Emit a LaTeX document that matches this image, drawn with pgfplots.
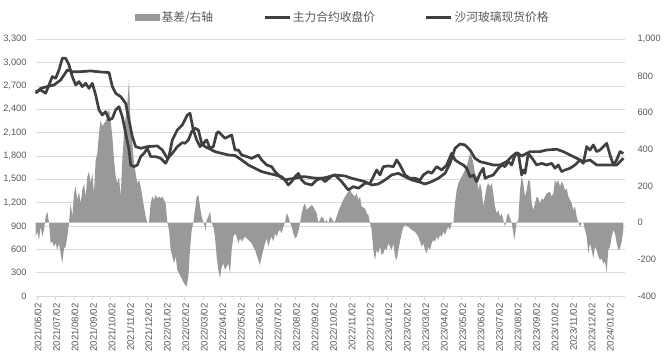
\documentclass[border=0pt]{standalone}
\usepackage{fontspec}
\setmainfont{Liberation Sans}
\newfontfamily\cjk{Noto Sans CJK SC}
\usepackage{pgfplots}
\pgfplotsset{compat=1.18}
\usepackage{pgfplotstable}
\definecolor{basisgray}{RGB}{153,153,153}
\definecolor{linegray}{RGB}{64,64,64}
\definecolor{gridgray}{RGB}{217,217,217}
\definecolor{textgray}{RGB}{89,89,89}

% x = time index (1 month = 55.38 units, 2021/06/02 at 9.1)
\pgfplotstableread{
g r
5 -76
10 -49
15 -94
20 -22
25 -76
30 -40
35 33
40 60
45 0
50 -113
55 -103
60 -131
65 -113
70 -149
75 -113
80 -167
85 -222
90 -140
95 -131
100 -76
105 0
110 106
115 33
120 160
125 197
130 124
135 169
140 106
145 178
150 215
155 142
160 251
165 278
170 215
175 269
180 160
185 342
190 378
195 487
200 560
205 524
210 542
215 551
220 578
225 624
230 551
235 469
240 342
245 251
250 215
255 251
260 142
265 342
270 487
275 578
280 651
285 778
290 524
295 433
300 324
305 269
310 215
315 233
320 197
325 142
330 87
335 33
340 0
345 0
350 106
355 142
360 124
365 151
370 133
375 142
380 133
385 142
390 124
395 106
400 0
405 -40
410 -149
415 -185
420 -222
425 -185
430 -258
435 -276
440 -294
445 -312
450 -331
458 -349
463 -294
468 -149
473 -40
478 0
483 69
488 142
493 151
498 87
503 33
508 0
513 -22
515 -49
518 15
523 33
528 60
533 -3
538 -22
543 -76
548 -185
553 -258
558 -303
563 -240
568 -222
573 -258
578 -240
583 -222
588 -276
593 -149
598 -76
603 -58
608 -76
613 -113
618 -85
623 -103
633 -76
643 -94
653 -113
663 -149
673 -204
678 -231
683 -185
688 -149
693 -113
698 -85
703 -131
708 -94
713 -76
718 -103
723 -58
728 -76
733 -49
738 -40
743 -58
748 -22
753 0
758 51
763 33
768 0
773 -22
778 -58
783 -85
788 -76
793 -49
798 -3
803 51
808 87
813 106
818 69
823 78
828 87
833 97
838 87
843 69
848 51
853 0
858 15
863 33
868 24
873 0
878 15
883 -3
888 33
893 24
898 5
903 5
908 33
913 60
923 106
933 142
943 169
948 178
953 160
963 142
968 160
973 124
978 142
983 87
993 78
998 51
1003 42
1008 0
1013 -40
1018 -149
1023 -204
1028 -149
1033 -167
1038 -131
1043 -176
1048 -167
1053 -140
1058 -149
1063 -113
1068 -131
1073 -149
1078 -113
1083 -185
1088 -204
1093 -149
1098 -103
1103 -58
1108 -22
1113 -13
1123 -22
1133 -40
1143 -49
1153 -76
1158 -103
1163 -131
1168 -113
1173 -149
1178 -167
1183 -131
1188 -149
1193 -113
1198 -94
1203 -103
1208 -76
1213 -94
1218 -67
1223 -76
1228 -49
1233 -67
1238 -40
1243 -22
1248 -40
1253 -3
1258 0
1263 106
1268 178
1273 215
1278 233
1283 251
1288 269
1293 287
1298 306
1303 342
1308 378
1313 360
1318 324
1323 269
1328 251
1333 178
1338 215
1343 178
1348 87
1353 142
1358 197
1363 215
1368 197
1373 215
1378 160
1383 87
1388 51
1393 69
1398 33
1403 51
1408 15
1413 -22
1416 0
1418 33
1423 51
1428 24
1433 0
1438 -58
1441 -94
1445 -40
1448 0
1453 15
1458 178
1463 251
1468 215
1473 142
1478 178
1483 233
1488 224
1493 106
1498 69
1503 106
1508 142
1513 133
1518 106
1523 133
1528 124
1533 142
1538 160
1548 169
1553 142
1558 160
1563 233
1568 215
1573 233
1578 197
1583 224
1588 206
1593 178
1598 187
1603 142
1608 124
1613 106
1618 69
1623 87
1628 33
1633 0
1638 -22
1643 0
1648 0
1653 -40
1658 -76
1663 -167
1668 -113
1673 -149
1678 -194
1683 -131
1688 -149
1693 -185
1698 -204
1703 -194
1708 -222
1713 -213
1718 -267
1723 -149
1728 -131
1733 -76
1738 -40
1743 -58
1748 -113
1753 -149
1758 -140
1763 -103
1768 -40
}\basis

\pgfplotstableread{
g v
5 2627
20 2649
35 2606
45 2713
55 2820
65 2799
75 2906
85 3056
95 3056
105 2970
115 2820
125 2713
135 2756
145 2692
155 2734
165 2670
175 2734
185 2584
195 2392
205 2327
215 2370
225 2263
235 2284
245 2392
255 2434
265 2306
275 2092
285 1877
290 1684
300 1663
310 1684
320 1792
330 1834
340 1899
350 1792
365 1792
380 1770
395 1706
405 1792
415 2006
430 2134
445 2199
460 2327
468 2349
478 2134
488 2006
498 1920
508 1963
518 2006
528 1899
538 1920
548 2092
553 2113
563 2070
573 2027
583 2049
593 2070
603 1877
613 1877
623 1813
638 1792
653 1770
673 1813
683 1749
698 1684
713 1663
723 1599
738 1534
753 1492
763 1427
773 1470
783 1534
793 1577
803 1492
813 1449
833 1427
848 1492
863 1513
873 1470
893 1543
903 1556
923 1470
943 1363
958 1406
973 1385
993 1449
1008 1449
1018 1534
1028 1620
1038 1556
1048 1663
1063 1672
1078 1663
1088 1749
1098 1684
1113 1556
1128 1513
1143 1513
1158 1492
1168 1556
1183 1599
1193 1577
1208 1663
1223 1620
1238 1684
1253 1834
1263 1749
1278 1706
1288 1684
1298 1642
1308 1534
1318 1556
1328 1470
1338 1577
1348 1642
1353 1513
1363 1534
1378 1556
1393 1642
1403 1684
1413 1663
1423 1727
1433 1684
1443 1813
1453 1834
1463 1556
1468 1620
1473 1577
1483 1834
1498 1749
1508 1684
1523 1706
1538 1684
1553 1706
1563 1642
1573 1684
1583 1599
1593 1620
1608 1642
1623 1684
1638 1749
1648 1706
1658 1920
1668 1877
1678 1942
1688 1856
1698 1877
1708 1920
1718 1963
1728 1813
1738 1684
1748 1749
1758 1856
1768 1834
}\futures

\pgfplotstableread{
g v
5 2606
20 2670
40 2692
60 2713
80 2777
100 2906
115 2884
140 2884
170 2893
200 2880
225 2872
235 2692
245 2606
260 2563
275 2477
285 2263
295 2049
305 1920
320 1899
340 1920
370 1929
385 1877
400 1770
415 1834
430 1920
445 1972
453 1963
463 2006
473 2113
483 2156
493 2134
503 1963
513 1920
523 1899
543 1856
563 1834
583 1813
603 1806
623 1749
643 1684
663 1642
683 1599
703 1577
723 1556
743 1534
753 1492
768 1505
783 1513
803 1534
813 1534
833 1520
853 1513
873 1520
893 1543
903 1556
933 1543
953 1513
973 1492
993 1470
1013 1427
1033 1440
1053 1492
1073 1556
1093 1577
1113 1534
1133 1492
1153 1470
1173 1440
1193 1470
1213 1513
1233 1577
1248 1706
1263 1899
1278 1954
1293 1942
1308 1877
1323 1770
1338 1727
1358 1706
1378 1684
1398 1684
1418 1727
1433 1792
1448 1843
1463 1800
1488 1856
1518 1856
1538 1877
1568 1886
1588 1856
1608 1813
1628 1770
1648 1727
1668 1749
1688 1684
1708 1684
1728 1684
1748 1684
1758 1727
1768 1770
}\spot

\pgfplotsset{
  base/.style={
    scale only axis, width=589bp, height=256.7bp,
    xmin=6, xmax=1773, clip=false,
    /pgf/number format/assume math mode=true,
    /pgf/number format/1000 sep={,},
    scaled y ticks=false,
    tick label style={text=textgray},
  },
  boxlegend/.style={legend image code/.code={\fill[basisgray] (0bp,-3bp) rectangle (24bp,3bp);}},
  linelegend/.style={legend image code/.code={\draw[linegray, line width=2.6bp] (0bp,0bp) -- (25bp,0bp);}},
}

\begin{document}
\begin{tikzpicture}
% background: grid, left axis, date axis
\begin{axis}[base,
  ymin=0, ymax=3300, ytick={0,300,...,3300},
  ymajorgrids, grid style={gridgray, line width=0.8bp},
  axis x line*=bottom, axis y line*=left,
  y axis line style={draw=none}, ytick style={draw=none},
  x axis line style={gridgray, line width=0.8bp},
  xtick style={gridgray, line width=0.8bp},
  major tick length=4bp, xtick align=outside,
  xtick={9.1,64.5,119.9,175.2,230.6,286.0,341.4,396.8,452.1,507.5,562.9,618.3,673.7,729.0,784.4,839.8,895.2,950.6,1005.9,1061.3,1116.7,1172.1,1227.5,1282.8,1338.2,1393.6,1449.0,1504.4,1559.7,1615.1,1670.5,1725.9},
  xticklabels={2021/06/02,2021/07/02,2021/08/02,2021/09/02,2021/10/02,2021/11/02,2021/12/02,2022/01/02,2022/02/02,2022/03/02,2022/04/02,2022/05/02,2022/06/02,2022/07/02,2022/08/02,2022/09/02,2022/10/02,2022/11/02,2022/12/02,2023/01/02,2023/02/02,2023/03/02,2023/04/02,2023/05/02,2023/06/02,2023/07/02,2023/08/02,2023/09/02,2023/10/02,2023/11/02,2023/12/02,2024/01/02},
  xticklabel style={rotate=90, anchor=east, font=\fontsize{9.6}{11}\selectfont, yshift=-1bp},
  yticklabel style={font=\fontsize{9.3}{11}\selectfont, xshift=-6bp},
]
\end{axis}
% basis area on right axis
\begin{axis}[base,
  ymin=-400, ymax=1000, ytick={-400,-200,...,1000},
  axis x line=none, axis y line*=right,
  y axis line style={draw=none}, ytick style={draw=none},
  yticklabel style={font=\fontsize{9.3}{11}\selectfont, xshift=9bp},
]
\addplot[fill=basisgray, draw=none] table[x=g, y=r] {\basis} \closedcycle;
\end{axis}
% price lines on left axis
\begin{axis}[base,
  ymin=0, ymax=3300, axis lines=none,
  legend columns=3,
  legend style={draw=none, fill=none, at={(0.163,1.086)}, anchor=west,
    font=\cjk\fontsize{11.8}{14}\selectfont, text=textgray,
    /tikz/every even column/.append style={column sep=48bp}},
]
\coordinate (sw) at (rel axis cs:0,0);
\coordinate (ne) at (rel axis cs:1,1);
\addlegendimage{boxlegend}
\addlegendentry{基差/右轴}
\addplot[linegray, line width=2.7bp, line join=round, linelegend] table[x=g, y=v] {\futures};
\addlegendentry{主力合约收盘价}
\addplot[linegray, line width=2.7bp, line join=round, linelegend] table[x=g, y=v] {\spot};
\addlegendentry{沙河玻璃现货价格}
\end{axis}
\pgfresetboundingbox
\path ([xshift=-36bp,yshift=-67bp]sw) rectangle ([xshift=44bp,yshift=39.3bp]ne);
\end{tikzpicture}
\end{document}
